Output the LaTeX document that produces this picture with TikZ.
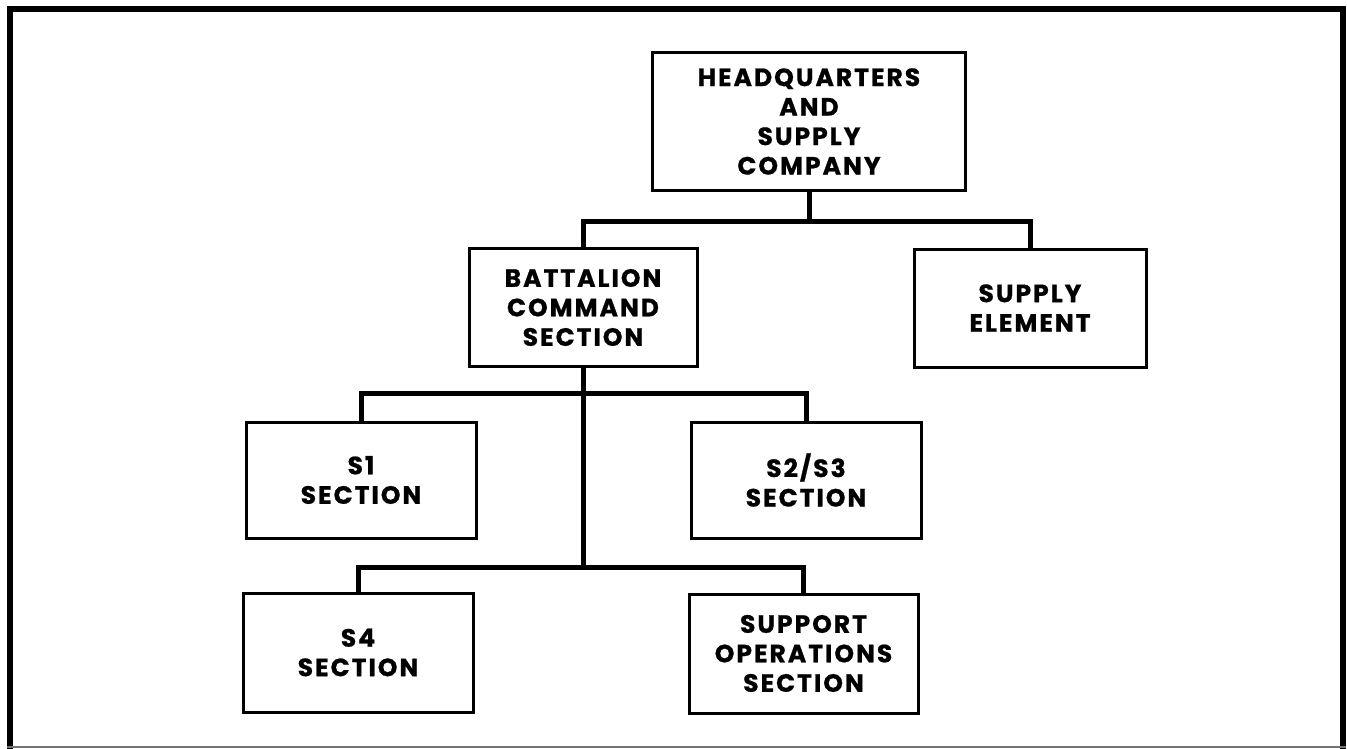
\documentclass[tikz,border=0pt]{standalone}
\usepackage{fontspec}
\setmainfont{Poppins}
\newfontfamily\orgfont{Poppins}[LetterSpace=8, BoldFeatures={FakeBold=0.8}]
\begin{document}
\begin{tikzpicture}[x=1pt,y=-1pt,
  orgbox/.style={draw, line width=3pt, inner sep=0pt, align=center,
    font=\orgfont\bfseries\fontsize{25}{29.5}\selectfont},
  conn/.style={line width=5pt, line join=miter, line cap=rect},
  frameline/.style={line width=6pt}]
\useasboundingbox (0,0) rectangle (1347,749);
% outer frame: heavy left, top and right edges, light bottom edge
\draw[frameline] (10,749) -- (10,9) -- (1343,9) -- (1343,749);
\draw[line width=2pt, black!55] (7,747) -- (1346,747);

% boxes
\node[orgbox, minimum width=313pt, minimum height=137pt] (hq) at (809,121.5)
  {HEADQUARTERS\\AND\\SUPPLY\\COMPANY};
\node[orgbox, minimum width=228pt, minimum height=118pt] (bcs) at (583,307.5)
  {BATTALION\\COMMAND\\SECTION};
\node[orgbox, minimum width=232pt, minimum height=118pt] (se) at (1030,308)
  {SUPPLY\\ELEMENT};
\node[orgbox, minimum width=230pt, minimum height=116pt] (s1) at (361,480)
  {S1\\SECTION};
\node[orgbox, minimum width=230pt, minimum height=116pt] (s23) at (806,480)
  {S2/S3\\SECTION};
\node[orgbox, minimum width=230pt, minimum height=119pt] (s4) at (358,652.5)
  {S4\\SECTION};
\node[orgbox, minimum width=229pt, minimum height=119pt] (sos) at (803.5,653.5)
  {SUPPORT\\OPERATIONS\\SECTION};

% bus levels
\coordinate (busA) at (0,221);
\coordinate (busB) at (0,393);
\coordinate (busC) at (0,567);

% connectors
\draw[conn] (hq.south) -- (hq.south |- busA);
\draw[conn] (bcs.north) -- (bcs.north |- busA) -- (se.north |- busA) -- (se.north);
\draw[conn] (bcs.south) -- (bcs.south |- busC);
\draw[conn] (s1.north) -- (s1.north |- busB) -- (s23.north |- busB) -- (s23.north);
\draw[conn] (s4.north) -- (s4.north |- busC) -- (sos.north |- busC) -- (sos.north);
\end{tikzpicture}
\end{document}
